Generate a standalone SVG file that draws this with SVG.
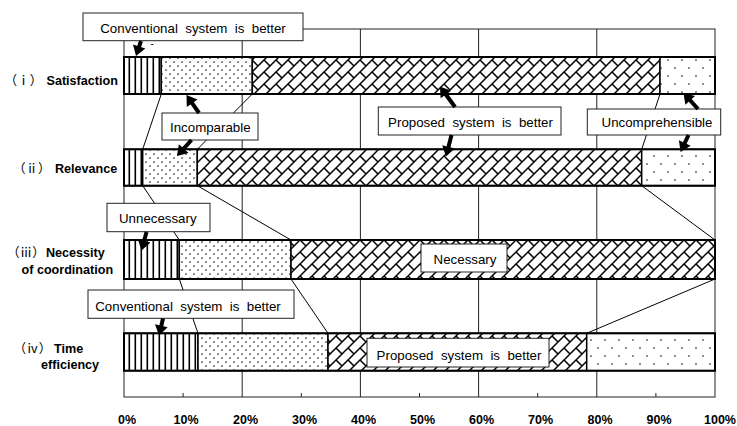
<svg xmlns="http://www.w3.org/2000/svg" width="737" height="426" viewBox="0 0 737 426">
<style>
.grid{stroke:#222;stroke-width:1;fill:none}
.seg{stroke:#000;stroke-width:1.5}
.outl{fill:none;stroke:#000;stroke-width:2}
.conn{stroke:#000;stroke-width:1;fill:none}
.box{fill:#fff;stroke:#222;stroke-width:1}
.bt{font-family:"Liberation Sans",Arial,sans-serif;font-size:13.3px;word-spacing:3.7px;fill:#000;text-anchor:middle}
.lb{font-family:"Liberation Sans",Arial,sans-serif;font-size:12.6px;font-weight:bold;fill:#000}
.rn{font-family:"Noto Sans CJK JP","DejaVu Sans",sans-serif;font-size:12.6px;fill:#000;text-anchor:middle}
.ax{font-family:"Liberation Sans",Arial,sans-serif;font-size:12.5px;font-weight:bold;fill:#000;text-anchor:middle}
.arr{stroke:#000;stroke-width:4;marker-end:url(#ah)}
</style>
<defs>
<pattern id="vs" patternUnits="userSpaceOnUse" width="6" height="10">
<rect width="6" height="10" fill="#fff"/>
<rect x="2.5" y="0" width="1.6" height="10" fill="#000"/>
</pattern>
<pattern id="dd" patternUnits="userSpaceOnUse" width="8" height="8">
<rect width="8" height="8" fill="#fff"/>
<circle cx="2" cy="2" r="0.85" fill="#222"/>
<circle cx="6" cy="6" r="0.85" fill="#222"/>
</pattern>
<pattern id="sd" patternUnits="userSpaceOnUse" width="14" height="16">
<rect width="14" height="16" fill="#fff"/>
<circle cx="3" cy="4" r="0.85" fill="#222"/>
<circle cx="10" cy="12" r="0.85" fill="#222"/>
</pattern>
<pattern id="br" patternUnits="userSpaceOnUse" width="12" height="12">
<rect width="12" height="12" fill="#fff"/>
<path d="M0,12 L12,0 M-1,1 L1,-1 M11,13 L13,11 M0,0 L6,6" stroke="#000" stroke-width="1.5" fill="none"/>
</pattern>
<marker id="ah" markerUnits="userSpaceOnUse" markerWidth="14" markerHeight="14" refX="4" refY="6.5" orient="auto" overflow="visible">
<path d="M0,0 L10,6.5 L0,13 z" fill="#000"/>
</marker>
</defs>

<g id="axes">
<rect class="grid" x="124" y="29" width="591" height="368" stroke="#000"/>
<line class="grid" x1="242.2" y1="29" x2="242.2" y2="397"/>
<line class="grid" x1="360.4" y1="29" x2="360.4" y2="397"/>
<line class="grid" x1="478.6" y1="29" x2="478.6" y2="397"/>
<line class="grid" x1="596.8" y1="29" x2="596.8" y2="397"/>
<path class="grid" d="M183.1,397 V393 M301.3,397 V393 M419.5,397 V393 M537.7,397 V393 M655.9,397 V393"/>
<text class="ax" x="127" y="424">0%</text>
<text class="ax" x="186" y="424">10%</text>
<text class="ax" x="245.5" y="424">20%</text>
<text class="ax" x="304.5" y="424">30%</text>
<text class="ax" x="363.5" y="424">40%</text>
<text class="ax" x="422.5" y="424">50%</text>
<text class="ax" x="481.5" y="424">60%</text>
<text class="ax" x="540.5" y="424">70%</text>
<text class="ax" x="600" y="424">80%</text>
<text class="ax" x="659" y="424">90%</text>
<text class="ax" x="720" y="424">100%</text>
</g>

<g id="connectors">
<line class="conn" x1="161.3" y1="94" x2="142.7" y2="149.3"/>
<line class="conn" x1="252.3" y1="94" x2="197.3" y2="149.3"/>
<line class="conn" x1="660" y1="94" x2="641.7" y2="149.3"/>
<line class="conn" x1="142.7" y1="185.7" x2="179.3" y2="240"/>
<line class="conn" x1="197.3" y1="185.7" x2="291" y2="240"/>
<line class="conn" x1="641.7" y1="185.7" x2="715" y2="240"/>
<line class="conn" x1="179.3" y1="279" x2="198" y2="333.3"/>
<line class="conn" x1="291" y1="279" x2="328" y2="333.3"/>
<line class="conn" x1="715" y1="279" x2="586.7" y2="333.3"/>
</g>

<g id="bar-satisfaction">
<rect class="seg" x="124" y="57" width="37.3" height="37" fill="url(#vs)"/>
<rect class="seg" x="161.3" y="57" width="91" height="37" fill="url(#dd)"/>
<rect class="seg" x="252.3" y="57" width="407.7" height="37" fill="url(#br)"/>
<rect class="seg" x="660" y="57" width="55" height="37" fill="url(#sd)"/>
<rect class="outl" x="124" y="57" width="591" height="37"/>
</g>
<g id="bar-relevance">
<rect class="seg" x="124" y="149.3" width="18.7" height="36.4" fill="url(#vs)"/>
<rect class="seg" x="142.7" y="149.3" width="54.6" height="36.4" fill="url(#dd)"/>
<rect class="seg" x="197.3" y="149.3" width="444.4" height="36.4" fill="url(#br)"/>
<rect class="seg" x="641.7" y="149.3" width="73.3" height="36.4" fill="url(#sd)"/>
<rect class="outl" x="124" y="149.3" width="591" height="36.4"/>
</g>
<g id="bar-necessity">
<rect class="seg" x="124" y="240" width="55.3" height="39" fill="url(#vs)"/>
<rect class="seg" x="179.3" y="240" width="111.7" height="39" fill="url(#dd)"/>
<rect class="seg" x="291" y="240" width="424" height="39" fill="url(#br)"/>
<rect class="outl" x="124" y="240" width="591" height="39"/>
</g>
<g id="bar-time">
<rect class="seg" x="124" y="333.3" width="74" height="37.4" fill="url(#vs)"/>
<rect class="seg" x="198" y="333.3" width="130" height="37.4" fill="url(#dd)"/>
<rect class="seg" x="328" y="333.3" width="258.7" height="37.4" fill="url(#br)"/>
<rect class="seg" x="586.7" y="333.3" width="128.3" height="37.4" fill="url(#sd)"/>
<rect class="outl" x="124" y="333.3" width="591" height="37.4"/>
</g>

<g id="row-labels">
<text class="rn" x="23.5" y="85">（ⅰ）</text>
<text class="lb" x="46.5" y="85">Satisfaction</text>
<text class="rn" x="31.8" y="172.5">（ⅱ）</text>
<text class="lb" x="55" y="172.5">Relevance</text>
<text class="rn" x="26" y="257">（ⅲ）</text>
<text class="lb" x="46" y="257">Necessity</text>
<text class="lb" x="21.5" y="274">of coordination</text>
<text class="rn" x="32.5" y="352.5">（ⅳ）</text>
<text class="lb" x="54" y="352.5">Time</text>
<text class="lb" x="41" y="368.5">efficiency</text>
</g>

<g id="callout-conventional-1">
<rect class="box" x="83" y="13" width="220" height="27.7"/>
<text class="bt" x="193" y="33">Conventional system is better</text>
<text x="150.5" y="47" font-family="Liberation Sans,sans-serif" font-size="10" fill="#000">-</text>
</g>
<g id="callout-incomparable">
<rect class="box" x="162" y="113" width="96" height="27"/>
<text class="bt" x="210.3" y="131.5">Incomparable</text>
</g>
<g id="callout-proposed-1">
<rect class="box" x="378.3" y="107" width="182.7" height="28"/>
<text class="bt" x="470.5" y="126.8">Proposed system is better</text>
</g>
<g id="callout-uncomprehensible">
<rect class="box" x="587.3" y="109" width="133.4" height="26"/>
<text class="bt" x="657" y="127">Uncomprehensible</text>
</g>
<g id="callout-unnecessary">
<rect class="box" x="107" y="203.3" width="103" height="28.4"/>
<text class="bt" x="157.8" y="223">Unnecessary</text>
</g>
<g id="callout-necessary">
<rect class="box" x="421" y="244" width="86" height="28"/>
<text class="bt" x="465" y="264">Necessary</text>
</g>
<g id="callout-conventional-2">
<rect class="box" x="88" y="290" width="206" height="28.3"/>
<text class="bt" x="188" y="311">Conventional system is better</text>
</g>
<g id="callout-proposed-2">
<rect class="box" x="367" y="338.3" width="182" height="28.7"/>
<text class="bt" x="459" y="359.5">Proposed system is better</text>
</g>

<g id="arrows">
<line class="arr" x1="141" y1="41" x2="137.9" y2="50.3"/>
<line class="arr" x1="199" y1="113" x2="189.9" y2="99.9"/>
<line class="arr" x1="191.5" y1="140" x2="181" y2="151.6"/>
<line class="arr" x1="455" y1="107" x2="443.5" y2="91.3"/>
<line class="arr" x1="451.5" y1="135" x2="447.5" y2="150.7"/>
<line class="arr" x1="698" y1="109" x2="687.5" y2="97.4"/>
<line class="arr" x1="688.5" y1="135" x2="683.1" y2="146.6"/>
<line class="arr" x1="146.5" y1="232" x2="143.1" y2="244.7"/>
<line class="arr" x1="163" y1="318.5" x2="160.4" y2="329.7"/>
</g>
</svg>
